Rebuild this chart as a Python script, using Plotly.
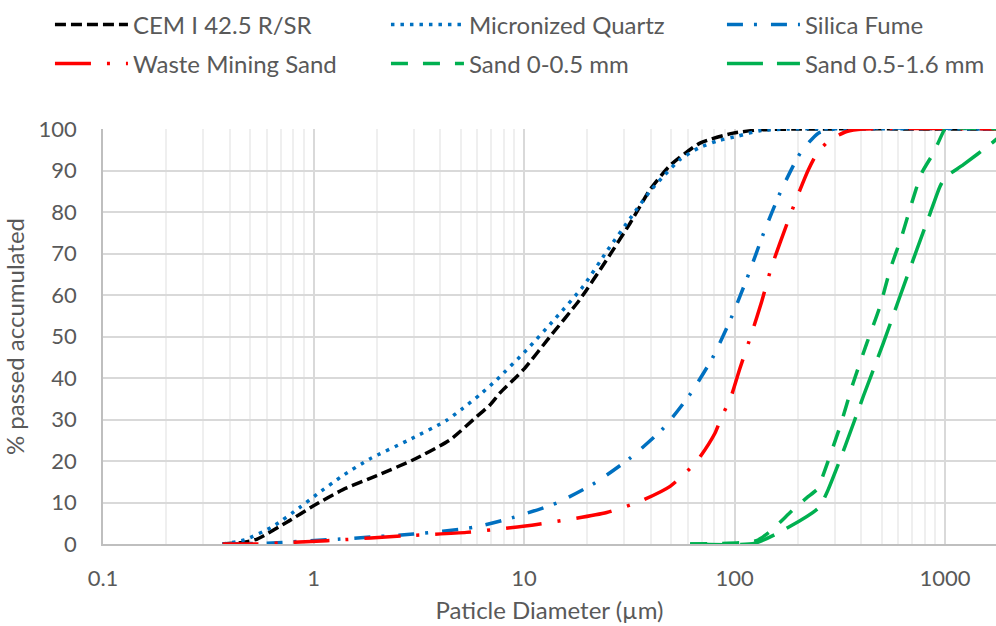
import plotly.graph_objects as go

# ---------------- data ----------------
cem_d = [0.37, 0.45, 0.54, 0.75, 1.0, 1.38, 2.0, 2.98, 4.45, 5.96, 6.89, 7.69, 9.93, 13.3, 18.4, 24.7, 31.9, 39.7, 49.4, 68.5, 98.6, 132, 200, 2000]
cem_p = [0, 0.3, 1.2, 5.3, 9.2, 13.1, 16.5, 20.3, 25.1, 30.7, 33.5, 36.4, 42.0, 50.0, 58.9, 68.5, 77.3, 85.4, 91.2, 96.6, 99.0, 99.8, 100, 100]

mq_d = [0.37, 0.47, 0.64, 0.86, 1.04, 1.38, 1.85, 2.82, 4.29, 5.15, 6.18, 7.42, 10.3, 14.0, 19.1, 24.7, 32.5, 39.7, 46.7, 55, 67.3, 83.8, 104, 132, 180, 2000]
mq_p = [0, 1.0, 4.2, 8.8, 12.0, 16.5, 20.5, 25.0, 29.8, 32.8, 36.0, 39.6, 46.8, 54.2, 62.1, 70.5, 79.0, 85.0, 89.0, 92.6, 95.4, 97.2, 98.3, 99.6, 100, 100]

sf_d = [0.37, 0.6, 1.34, 2.98, 5.74, 8.9, 14.3, 21.7, 31.9, 45.9, 61.5, 79.3, 97, 116.4, 137, 164.5, 204.8, 250, 300, 2000]
sf_p = [0, 0.2, 1.2, 2.4, 4.0, 6.4, 9.9, 14.7, 20.7, 27.9, 36.1, 45.2, 54.8, 64.9, 74.7, 84.6, 94.1, 99.0, 100, 100]

wms_d = [0.37, 0.54, 0.8, 1.16, 2.98, 5.34, 11.5, 24.7, 35.6, 49.4, 66.1, 80.7, 86.9, 95.2, 106.2, 120.7, 134.7, 150.2, 180.3, 204.8, 224.3, 247, 284.5, 341, 408, 2000]
wms_p = [0, 0, 0.4, 0.8, 2.1, 2.8, 4.7, 7.6, 10.3, 13.9, 19.9, 26.7, 30.7, 34.8, 42.4, 50.8, 58.5, 66.9, 78.1, 85.4, 90.2, 94.2, 97.4, 99.4, 100, 100]

s1_d = [61.5, 106, 127, 147.5, 190, 220, 250, 264, 317, 366, 425, 491, 548, 622, 695, 775, 880, 982, 1000, 2000]
s1_p = [0, 0.3, 0.8, 3.0, 8.3, 11.1, 13.5, 16.7, 28.3, 38.8, 48.4, 57.3, 66.1, 74.1, 82.2, 89.4, 94.2, 99.4, 100, 100]

s2_d = [61.5, 125, 183, 251, 274, 335, 409, 509, 611, 734, 851, 947, 1000, 1222, 1667, 2000]
s2_p = [0, 0.2, 4.2, 8.7, 12.3, 23.5, 35.6, 48.4, 59.7, 70.9, 79.8, 86.2, 88.3, 91.4, 96.6, 100]

x_tickvals = [0.1, 1, 10, 100, 1000]
x_ticktext = ["0.1", "1", "10", "100", "1000"]
y_tickvals = [0, 10, 20, 30, 40, 50, 60, 70, 80, 90, 100]

BLUE = "#0070C0"
RED = "#FF0000"
GREEN = "#00B050"
W = 3.5
LW_COL = 248  # legend entry width for columns 1 and 2

series = [
    ("CEM I 42.5 R/SR", cem_d, cem_p, "#000000", "11px,5px", "legend", LW_COL),
    ("Micronized Quartz", mq_d, mq_p, BLUE, "3.5px,6px", "legend", LW_COL),
    ("Silica Fume", sf_d, sf_p, BLUE, "16px,11px,3px,14px", "legend", None),
    ("Waste Mining Sand", wms_d, wms_p, RED, "36px,16px,3px,16px", "legend2", LW_COL),
    ("Sand 0-0.5 mm", s1_d, s1_p, GREEN, "17px,15px", "legend2", LW_COL),
    ("Sand 0.5-1.6 mm", s2_d, s2_p, GREEN, "36px,14px", "legend2", None),
]

fig = go.Figure()
for name, d, p, col, dash, leg, lw in series:
    kw = dict(legendwidth=lw) if lw else {}
    fig.add_trace(go.Scatter(
        x=d, y=p, mode="lines", name=name, legend=leg,
        line=dict(color=col, width=W, dash=dash, shape="spline", smoothing=0.6),
        **kw))

FONT = "Lato"
TXT = "#595959"

fig.update_layout(
    width=996, height=626,
    margin=dict(l=103, r=0, t=129, b=82),
    paper_bgcolor="white", plot_bgcolor="white",
    font=dict(family=FONT, color=TXT),
    legend=dict(orientation="h", xref="paper", yref="paper",
                x=-0.0594, xanchor="left", y=1.251, yanchor="middle",
                font=dict(size=24, color=TXT), itemwidth=73,
                bgcolor="rgba(0,0,0,0)", traceorder="normal"),
    legend2=dict(orientation="h", xref="paper", yref="paper",
                 x=-0.0594, xanchor="left", y=1.157, yanchor="middle",
                 font=dict(size=24, color=TXT), itemwidth=73,
                 bgcolor="rgba(0,0,0,0)", traceorder="normal"),
    showlegend=True,
)

fig.update_xaxes(
    type="log", range=[-1, 3.242],
    tickvals=x_tickvals, ticktext=x_ticktext,
    tickfont=dict(size=22, color=TXT), ticks="", ticklabelstandoff=14,
    showgrid=True, gridcolor="#d9d9d9", gridwidth=1.5,
    minor=dict(showgrid=True, gridcolor="#efefef", gridwidth=1.5, dtick="D1"),
    showline=True, linecolor="#bfbfbf", linewidth=1.5,
    zeroline=False,
    title=dict(text="Paticle Diameter (µm)", font=dict(size=24, color=TXT), standoff=12),
)
fig.update_yaxes(
    range=[0, 100], tickvals=y_tickvals,
    tickfont=dict(size=22, color=TXT), ticks="", ticklabelstandoff=20,
    showgrid=True, gridcolor="#d9d9d9", gridwidth=1.5,
    showline=True, linecolor="#bfbfbf", linewidth=1.5,
    zeroline=False,
    title=dict(text="% passed accumulated", font=dict(size=24, color=TXT), standoff=10),
)

fig.write_html("out.html")
